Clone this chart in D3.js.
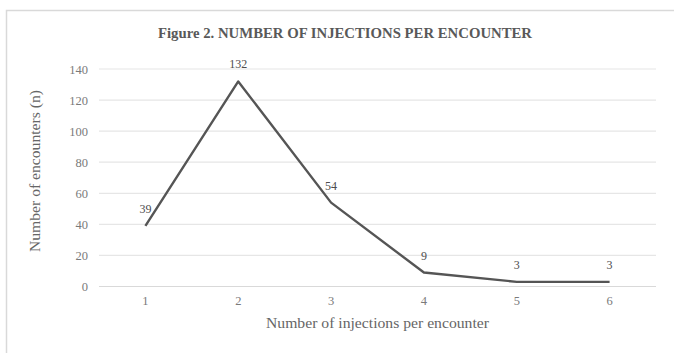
<!DOCTYPE html>
<html>
<head>
<meta charset="utf-8">
<script src="https://cdn.jsdelivr.net/npm/d3@7"></script>
<style>
  html, body { margin: 0; padding: 0; background: #fff; }
  svg { display: block; }
</style>
</head>
<body>
<svg id="chart" width="674" height="353"></svg>
<script>
// Chart data
const categories = ["1", "2", "3", "4", "5", "6"];
const encounters = [39, 132, 54, 9, 3, 3];
const yTicks = [0, 20, 40, 60, 80, 100, 120, 140];

const chartTitle = "Figure 2. NUMBER OF INJECTIONS PER ENCOUNTER";
const xTitle = "Number of injections per encounter";
const yTitle = "Number of encounters (n)";

const FONT = "'Liberation Serif', 'DejaVu Serif', serif";
const svg = d3.select("#chart").attr("font-family", FONT);
const W = 674, H = 353;

// outer frame
svg.append("rect")
  .attr("x", 6.5).attr("y", 10.5)
  .attr("width", W + 10).attr("height", H + 10)
  .attr("fill", "#fff")
  .attr("stroke", "#d9d9d9").attr("stroke-width", 1.5);

const plot = { left: 99, right: 656, top: 69, bottom: 286.5 };

const x = d3.scaleBand().domain(categories).range([plot.left, plot.right]);
const y = d3.scaleLinear().domain([0, 140]).range([plot.bottom, plot.top]);

// gridlines
svg.append("g")
  .selectAll("line")
  .data(yTicks)
  .join("line")
  .attr("x1", plot.left).attr("x2", plot.right)
  .attr("y1", d => y(d)).attr("y2", d => y(d))
  .attr("stroke", d => d === 0 ? "#d9d9d9" : "#e6e6e6")
  .attr("stroke-width", 1.2);

// y axis labels
const yAxis = d3.axisLeft(y).tickValues(yTicks).tickSize(0).tickPadding(0);
const yg = svg.append("g")
  .attr("transform", `translate(${plot.left - 11},0)`)
  .call(yAxis)
  .attr("font-family", FONT)
  .attr("font-size", 12.5);
yg.select(".domain").remove();
yg.selectAll("text").attr("fill", "#7a7a7a");

// x axis labels
const xAxis = d3.axisBottom(x).tickSize(0).tickPadding(0);
const xg = svg.append("g")
  .attr("transform", `translate(0,${plot.bottom + 10})`)
  .call(xAxis)
  .attr("font-family", FONT)
  .attr("font-size", 12.5);
xg.select(".domain").remove();
xg.selectAll("text").attr("fill", "#7a7a7a");

// line series
const cx = d => x(d) + x.bandwidth() / 2;
const line = d3.line()
  .x((d, i) => cx(categories[i]))
  .y(d => y(d));

svg.append("path")
  .datum(encounters)
  .attr("d", line)
  .attr("fill", "none")
  .attr("stroke", "#555555")
  .attr("stroke-width", 2.4)
  .attr("stroke-linejoin", "round");

// value labels
svg.append("g")
  .selectAll("text")
  .data(encounters)
  .join("text")
  .attr("x", (d, i) => cx(categories[i]))
  .attr("y", d => y(d) - 13)
  .attr("text-anchor", "middle")
  .attr("font-size", 12)
  .attr("fill", "#4d4d4d")
  .text(d => d);

// titles
svg.append("text")
  .attr("x", 345).attr("y", 38)
  .attr("text-anchor", "middle")
  .attr("font-size", 14.5)
  .attr("font-weight", "bold")
  .attr("fill", "#595959")
  .attr("textLength", 374)
  .attr("lengthAdjust", "spacingAndGlyphs")
  .text(chartTitle);

svg.append("text")
  .attr("x", (plot.left + plot.right) / 2).attr("y", 328)
  .attr("text-anchor", "middle")
  .attr("font-size", 14)
  .attr("fill", "#666666")
  .attr("textLength", 223)
  .attr("lengthAdjust", "spacingAndGlyphs")
  .text(xTitle);

svg.append("text")
  .attr("transform", `translate(40,171) rotate(-90)`)
  .attr("text-anchor", "middle")
  .attr("font-size", 14)
  .attr("fill", "#666666")
  .attr("textLength", 162)
  .attr("lengthAdjust", "spacingAndGlyphs")
  .text(yTitle);
</script>
</body>
</html>
